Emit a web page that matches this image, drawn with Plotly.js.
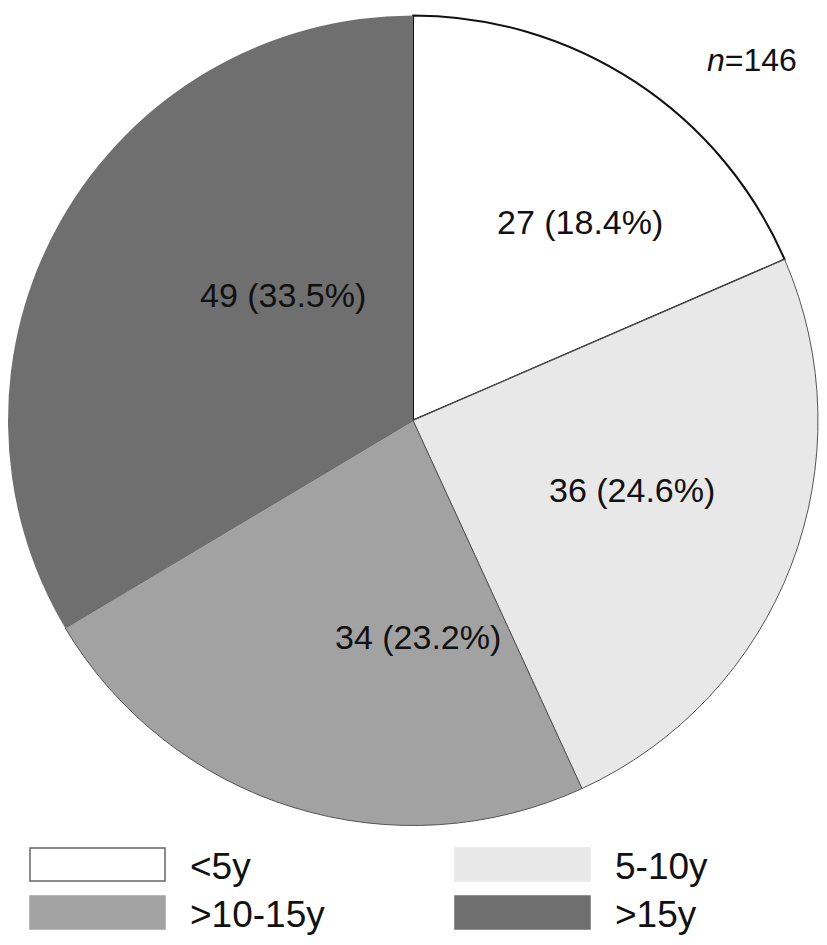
<!DOCTYPE html>
<html><head><meta charset="utf-8">
<script src="https://cdn.plot.ly/plotly-3.0.1.min.js"></script>
<style>html,body{margin:0;padding:0;background:#fff;}</style>
</head><body><div id="chart" style="width:827px;height:945px;"></div>
<script>
const categories = ['<5y', '5-10y', '>10-15y', '>15y'];
const counts = [27, 36, 34, 49];
const pctLabels = ['18.4%', '24.6%', '23.2%', '33.5%'];
const totalN = 146;

// styling / placement (not data)
const colors = ['#ffffff', '#e8e8e8', '#a2a2a2', '#6f6f6f'];
const lineColors = ['#111111', '#555555', '#555555', '#6f6f6f'];
const lineWidths = [2, 1, 1, 0];
const labelPos = [[580, 222], [632, 490], [418, 637], [283, 295]];
const legPos = [[30, 848], [455, 848], [30, 896], [455, 896]];
const FONT = 'Liberation Sans, Arial, sans-serif';

const trace = {
  type: 'pie',
  labels: categories,
  values: counts,
  sort: false,
  direction: 'clockwise',
  rotation: 0,
  marker: {colors: colors, line: {color: lineColors, width: lineWidths}},
  textinfo: 'none',
  hoverinfo: 'none',
  showlegend: false,
  domain: {x: [8/827, 818/827], y: [119/945, 930/945]}
};

const shapes = [];
const annotations = [];
categories.forEach((c, i) => {
  const [x0, y0] = legPos[i];
  shapes.push({type: 'rect', xref: 'paper', yref: 'paper',
    x0: x0/827, x1: (x0+135)/827, y0: 1-(y0+33)/945, y1: 1-y0/945,
    fillcolor: colors[i], line: {color: i === 0 ? '#666' : colors[i], width: 1.5}});
  annotations.push({xref: 'paper', yref: 'paper', x: (x0+158)/827, y: 1-(y0+18)/945,
    xanchor: 'left', yanchor: 'middle', showarrow: false, text: c,
    font: {family: FONT, size: 37, color: '#111'}});
  const [lx, ly] = labelPos[i];
  annotations.push({xref: 'paper', yref: 'paper', x: lx/827, y: 1-ly/945,
    xanchor: 'center', yanchor: 'middle', showarrow: false,
    text: counts[i] + ' (' + pctLabels[i] + ')',
    font: {family: FONT, size: 34, color: '#111'}});
});
annotations.push({xref: 'paper', yref: 'paper', x: 799/827, y: 1-60/945,
  xanchor: 'right', yanchor: 'middle', showarrow: false,
  text: '<i>n</i>=' + totalN,
  font: {family: FONT, size: 32, color: '#111'}});

Plotly.newPlot('chart', [trace], {
  width: 827, height: 945,
  margin: {l: 0, r: 0, t: 0, b: 0},
  paper_bgcolor: '#fff',
  shapes: shapes, annotations: annotations
}, {staticPlot: true});
</script></body></html>
